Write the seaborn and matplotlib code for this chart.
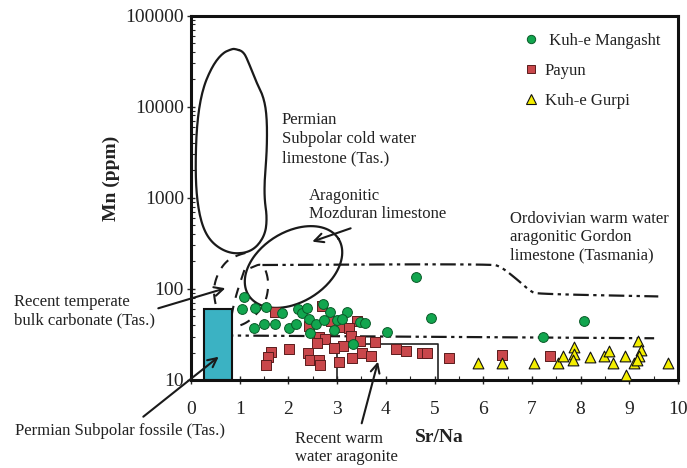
import numpy as np
import pandas as pd
import matplotlib
matplotlib.use('Agg')
import matplotlib.pyplot as plt
import seaborn as sns
from matplotlib.lines import Line2D
from matplotlib.ticker import MultipleLocator, LogLocator, NullFormatter

# ---------------- data ----------------
mangasht_srna = [1.08, 1.05, 1.31, 1.53, 1.86, 2.19, 2.28, 2.39, 2.71,
                 1.29, 1.49, 1.72, 2.01, 2.16, 2.42, 2.56, 2.73, 2.45, 2.85,
                 3.21, 2.99, 3.11, 3.48, 3.57, 2.93, 4.02, 4.92, 3.33, 4.63,
                 8.07, 7.22]
mangasht_mn = [81, 60, 62, 64, 54, 60, 55, 62, 68,
               37, 41, 41, 37, 41, 47, 41, 45, 33, 56,
               56, 46, 47, 43, 42, 35, 34, 48, 25, 134,
               44, 30]

payun_srna = [1.73, 2.70, 2.43, 2.63, 2.76, 2.59, 2.01, 1.65, 1.58, 1.54,
              2.41, 2.45, 2.63, 2.64, 2.87, 3.40, 3.07, 3.24, 3.28, 3.48,
              3.78, 3.12, 2.93, 4.20, 4.41, 4.74, 4.84, 5.30, 3.30, 3.52,
              3.69, 3.04, 6.38, 7.38]
payun_mn = [56, 65, 39.5, 30, 28, 25.3, 21.9, 20.1, 17.8, 14.6,
            19.9, 16.6, 16.6, 14.6, 44.4, 44.4, 37.9, 36.9, 30.4, 26.8,
            26.3, 23.6, 22.3, 21.7, 21.0, 19.6, 19.6, 17.6, 17.6, 19.6,
            18.3, 15.9, 18.8, 18.3]

gurpi_srna = [5.90, 6.38, 7.05, 7.53, 7.63, 7.86, 7.86, 7.85, 8.20, 8.48,
              8.59, 8.67, 8.92, 8.94, 9.09, 9.18, 9.24, 9.20, 9.16, 9.79]
gurpi_mn = [15.5, 15.5, 15.5, 15.5, 18.3, 22.9, 19.1, 16.6, 17.8, 18.3,
            21.0, 15.5, 18.3, 11.3, 15.5, 27.0, 21.3, 18.3, 16.6, 15.5]

group_names = ['Kuh-e Mangasht', 'Payun', 'Kuh-e Gurpi']

# Reference fields (Sr/Na, log10 Mn)
cold_water_x = [0.91, 1.08, 1.19, 1.32, 1.49, 1.56, 1.56, 1.51, 1.51, 1.56, 1.53,
                1.36, 1.12, 0.77, 0.43, 0.23, 0.12, 0.09, 0.12, 0.23, 0.43, 0.64, 0.84, 0.91]
cold_water_logmn = [4.633, 4.604, 4.476, 4.293, 4.110, 3.890, 3.525, 3.195, 2.976, 2.793, 2.610,
                    2.463, 2.391, 2.391, 2.501, 2.683, 2.976, 3.341, 3.818, 4.183, 4.439, 4.586, 4.633, 4.633]

# Mozduran ellipse: centre (Sr/Na, log10 Mn), semi-axes and tilt on the page
mozduran_centre = (2.105, 2.240)
mozduran_semi_axes_px = (53, 35)
mozduran_tilt_deg = 32

temperate_left_x = [1.117, 0.973, 0.747, 0.562, 0.459, 0.500, 0.603, 0.767]
temperate_left_logmn = [2.394, 2.372, 2.317, 2.186, 2.010, 1.823, 1.681, 1.549]
temperate_right_x = [1.220, 1.467, 1.570, 1.591, 1.529, 1.385, 1.179, 0.932, 0.809]
temperate_right_logmn = [2.229, 2.284, 2.153, 2.010, 1.856, 1.746, 1.637, 1.582, 1.582]
temperate_inner_x = [1.097, 0.979, 0.912, 0.844, 0.809]
temperate_inner_logmn = [2.207, 2.021, 1.900, 1.746, 1.604]

gordon_upper_x = [1.467, 6.158, 6.364, 6.708, 6.981, 7.119, 9.595]
gordon_upper_logmn = [2.262, 2.273, 2.244, 2.098, 1.969, 1.944, 1.917]
gordon_lower_x = [0.829, 0.829, 9.51]
gordon_lower_logmn = [1.637, 1.488, 1.458]

fossil_x0, fossil_x1, fossil_top = 0.27, 0.84, 59.7
warm_arag_x0, warm_arag_x1, warm_arag_top = 3.0, 5.08, 24.7

xticks = list(range(0, 11))
yticks = [10, 100, 1000, 10000, 100000]
ytick_labels = ['10', '100', '1000', '10000', '100000']

# ---------------- style ----------------
sns.set_style('ticks')
plt.rcParams['font.family'] = ['Liberation Serif', 'DejaVu Serif']
TXT = '#222222'

W, H = 687, 468
PX_X, PX_L = 48.6, 91.1   # page pixels per Sr/Na unit and per decade of Mn
fig = plt.figure(figsize=(W / 100, H / 100), dpi=100)
ax = fig.add_axes([191 / W, 1 - 380 / H, 487 / W, 364.5 / H])


def fp(x, y):
    return (x / W, 1 - y / H)


def chaikin(x, L, closed, n=3):
    P = np.column_stack([np.asarray(x, float) * PX_X, np.asarray(L, float) * PX_L])
    for _ in range(n):
        if closed:
            Q = P[:-1] if np.allclose(P[0], P[-1]) else P
            R = np.roll(Q, -1, axis=0)
            new = np.empty((2 * len(Q), 2))
            new[0::2] = 0.75 * Q + 0.25 * R
            new[1::2] = 0.25 * Q + 0.75 * R
            P = np.vstack([new, new[:1]])
        else:
            A, B = P[:-1], P[1:]
            new = np.empty((2 * len(A), 2))
            new[0::2] = 0.75 * A + 0.25 * B
            new[1::2] = 0.25 * A + 0.75 * B
            P = np.vstack([P[:1], new, P[-1:]])
    return P[:, 0] / PX_X, 10 ** (P[:, 1] / PX_L)


def tilted_ellipse(centre, semi, tilt_deg):
    t = np.linspace(0, 2 * np.pi, 200)
    a, b = semi
    th = np.deg2rad(tilt_deg)
    dx = a * np.cos(t) * np.cos(th) - b * np.sin(t) * np.sin(th)
    dy = a * np.cos(t) * np.sin(th) + b * np.sin(t) * np.cos(th)
    return centre[0] + dx / PX_X, 10 ** (centre[1] + dy / PX_L)


green, red, yellow, teal = '#12a64f', '#c9474b', '#f4ee00', '#3bb2c3'
LC = '#1a1a1a'

df = pd.concat([
    pd.DataFrame({'Sr/Na': mangasht_srna, 'Mn': mangasht_mn, 'group': group_names[0]}),
    pd.DataFrame({'Sr/Na': payun_srna, 'Mn': payun_mn, 'group': group_names[1]}),
    pd.DataFrame({'Sr/Na': gurpi_srna, 'Mn': gurpi_mn, 'group': group_names[2]}),
], ignore_index=True)

ax.set_yscale('log')

# fields
ax.bar([fossil_x0], [fossil_top - 10], width=fossil_x1 - fossil_x0, bottom=10,
       align='edge', color=teal, edgecolor='#111111', linewidth=1.5, zorder=2)
ax.plot([warm_arag_x0, warm_arag_x0, warm_arag_x1, warm_arag_x1],
        [10, warm_arag_top, warm_arag_top, 10], color='#222222', lw=1.2, zorder=1)
ax.plot(*chaikin(cold_water_x, cold_water_logmn, True), color=LC, lw=1.6, zorder=1)
ax.plot(*tilted_ellipse(mozduran_centre, mozduran_semi_axes_px, mozduran_tilt_deg),
        color=LC, lw=1.6, zorder=1)
dashed = (0, (5, 4))
for xs, ls_ in [(temperate_left_x, temperate_left_logmn),
                (temperate_right_x, temperate_right_logmn),
                (temperate_inner_x, temperate_inner_logmn)]:
    ax.plot(*chaikin(xs, ls_, False), color=LC, lw=1.5, ls=dashed, zorder=1)
dashdotdot = (0, (7, 2, 1.5, 2, 1.5, 2))
ax.plot(*chaikin(gordon_upper_x, gordon_upper_logmn, False), color=LC, lw=1.6,
        ls=dashdotdot, zorder=1)
ax.plot(gordon_lower_x, 10 ** np.array(gordon_lower_logmn), color=LC, lw=1.6,
        ls=dashdotdot, zorder=1)

# points
sub = df[df.group == group_names[0]]
sns.scatterplot(data=sub, x='Sr/Na', y='Mn', marker='o', s=50, color=green,
                edgecolor='#0a5a28', linewidth=0.7, ax=ax, zorder=4, legend=False)
sub = df[df.group == group_names[1]]
sns.scatterplot(data=sub, x='Sr/Na', y='Mn', marker='s', s=42, color=red,
                edgecolor='#5a1c1c', linewidth=0.7, ax=ax, zorder=3, legend=False)
sub = df[df.group == group_names[2]]
sns.scatterplot(data=sub, x='Sr/Na', y='Mn', marker='^', s=60, color=yellow,
                edgecolor='#111111', linewidth=0.8, ax=ax, zorder=3, legend=False)

# axes
ax.set_xlim(0, 10)
ax.set_ylim(10, 100000)
ax.set_xticks(xticks)
ax.set_xticklabels([str(t) for t in xticks])
ax.set_yticks(yticks)
ax.set_yticklabels(ytick_labels)
ax.xaxis.set_minor_locator(MultipleLocator(0.5))
ax.yaxis.set_minor_locator(LogLocator(base=10, subs=np.arange(2, 10)))
ax.yaxis.set_minor_formatter(NullFormatter())
ax.set_xlabel('')
ax.set_ylabel('')
for s in ax.spines.values():
    s.set_linewidth(2.2)
    s.set_color('#111111')
ax.tick_params(axis='x', which='major', direction='inout', length=6, width=1,
               pad=12, labelsize=14, labelcolor=TXT)
ax.tick_params(axis='y', which='major', direction='inout', length=6, width=1,
               pad=2, labelsize=14, labelcolor=TXT)
ax.tick_params(which='minor', direction='in', length=3, width=0.8)

fig.text(*fp(111.7, 178), 'Mn (ppm)', rotation=90, ha='center', va='center',
         fontsize=14, fontweight='bold', color=TXT)
fig.text(*fp(439.5, 437), 'Sr/Na', ha='center', va='center',
         fontsize=14, fontweight='bold', color=TXT)

# legend
handles = [
    Line2D([], [], ls='', marker='o', markersize=6, mfc=green, mec='#0a5a28', mew=0.7),
    Line2D([], [], ls='', marker='s', markersize=5.5, mfc=red, mec='#5a1c1c', mew=0.7),
    Line2D([], [], ls='', marker='^', markersize=6.5, mfc=yellow, mec='#111111', mew=0.8),
]
leg = ax.legend(handles, [' ' + group_names[0], group_names[1], group_names[2]],
                loc='upper left', bbox_to_anchor=(0.684, 0.953), frameon=False,
                borderpad=0, borderaxespad=0, handlelength=0.8, handletextpad=0.45,
                labelspacing=0.85, fontsize=12)
for t in leg.get_texts():
    t.set_color(TXT)

# annotations
fs = 12
fig.text(*fp(282, 139), 'Permian\nSubpolar cold water\nlimestone (Tas.)', ha='left',
         va='center', fontsize=fs, color=TXT, linespacing=1.25)
fig.text(*fp(309, 205), 'Aragonitic\nMozduran limestone', ha='left',
         va='center', fontsize=fs, color=TXT, linespacing=1.1)
fig.text(*fp(510, 237), 'Ordovivian warm water\naragonitic Gordon\nlimestone (Tasmania)',
         ha='left', va='center', fontsize=fs, color=TXT, linespacing=1.2)
fig.text(*fp(14, 311), 'Recent temperate\nbulk carbonate (Tas.)', ha='left',
         va='center', fontsize=fs, color=TXT, linespacing=1.2)
fig.text(*fp(15, 431), 'Permian Subpolar fossile (Tas.)', ha='left',
         va='center', fontsize=fs, color=TXT)
fig.text(*fp(295, 448), 'Recent warm\nwater aragonite', ha='left',
         va='center', fontsize=fs, color=TXT, linespacing=1.2)

arrow = dict(arrowstyle='->', lw=1.5, color=LC, shrinkA=0, shrinkB=0,
             mutation_scale=16)
ax.annotate('', xy=(0.568, 18.0), xycoords='data', xytext=fp(143.3, 416.7),
            textcoords='figure fraction', arrowprops=arrow, annotation_clip=False)
ax.annotate('', xy=(0.706, 101.6), xycoords='data', xytext=fp(158.3, 308.3),
            textcoords='figure fraction', arrowprops=arrow, annotation_clip=False)
ax.annotate('', xy=(2.49, 330), xycoords='data', xytext=(3.278, 462),
            textcoords='data', arrowprops=arrow, annotation_clip=False)
ax.annotate('', xy=(3.84, 15.9), xycoords='data', xytext=fp(361.7, 423.3),
            textcoords='figure fraction', arrowprops=arrow, annotation_clip=False)

fig.savefig('out.png', dpi=100, facecolor='white')
